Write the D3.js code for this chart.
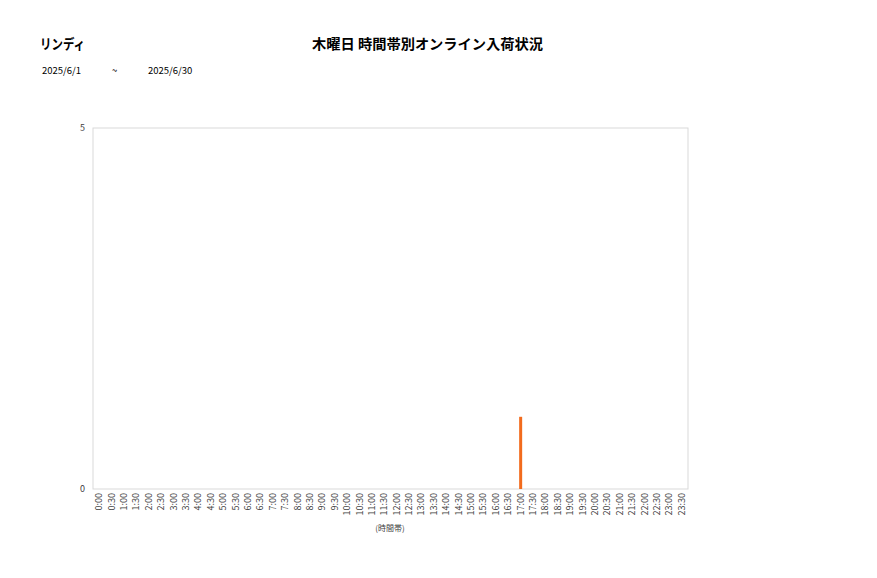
<!DOCTYPE html>
<html>
<head>
<meta charset="utf-8">
<script src="https://cdn.jsdelivr.net/npm/d3@7"></script>
<style>
  body { margin: 0; background: #fff; }
  text { font-family: "Noto Sans CJK JP", "Noto Sans", sans-serif; }
</style>
</head>
<body>
<div id="chart"></div>
<script>
// time slots, 30 minute steps
const slots = [
  "0:00","0:30","1:00","1:30","2:00","2:30","3:00","3:30","4:00","4:30",
  "5:00","5:30","6:00","6:30","7:00","7:30","8:00","8:30","9:00","9:30",
  "10:00","10:30","11:00","11:30","12:00","12:30","13:00","13:30","14:00","14:30",
  "15:00","15:30","16:00","16:30","17:00","17:30","18:00","18:30","19:00","19:30",
  "20:00","20:30","21:00","21:30","22:00","22:30","23:00","23:30"
];
const counts = [
  0,0,0,0,0,0,0,0,0,0,
  0,0,0,0,0,0,0,0,0,0,
  0,0,0,0,0,0,0,0,0,0,
  0,0,0,0,1,0,0,0,0,0,
  0,0,0,0,0,0,0,0
];
const yTicks = [0, 5];

const svg = d3.select("#chart").append("svg")
    .attr("width", 877)
    .attr("height", 578);

// header texts
svg.append("text").attr("x", 40).attr("y", 49)
    .attr("font-size", 14).attr("font-weight", "bold").attr("fill", "#000")
    .attr("textLength", 45).attr("lengthAdjust", "spacingAndGlyphs")
    .text("リンディ");
svg.append("text").attr("x", 312).attr("y", 49)
    .attr("font-size", 14).attr("font-weight", "bold").attr("fill", "#000")
    .attr("textLength", 231).attr("lengthAdjust", "spacingAndGlyphs")
    .text("木曜日 時間帯別オンライン入荷状況");
svg.append("text").attr("x", 42).attr("y", 74).attr("font-size", 9.5).text("2025/6/1");
svg.append("text").attr("x", 112).attr("y", 74).attr("font-size", 9.5).text("~");
svg.append("text").attr("x", 148).attr("y", 74).attr("font-size", 9.5).text("2025/6/30");

const margin = { top: 128, left: 93 };
const width = 595, height = 361;

const chart = svg.append("g")
    .attr("transform", `translate(${margin.left},${margin.top})`);

const x = d3.scaleBand().domain(slots).range([0, width]);
const y = d3.scaleLinear().domain([0, 5]).range([height, 0]);

// plot frame
chart.append("rect")
    .attr("width", width).attr("height", height)
    .attr("fill", "none").attr("stroke", "#d9d9d9");

// y labels
chart.selectAll(".ylab")
    .data(yTicks)
    .enter().append("text")
    .attr("class", "ylab")
    .attr("x", -8).attr("y", d => y(d) + 3)
    .attr("text-anchor", "end").attr("font-size", 9).attr("fill", "#404040")
    .text(d => d);

// x labels, rotated
chart.selectAll(".xlab")
    .data(slots)
    .enter().append("text")
    .attr("class", "xlab")
    .attr("transform", d => `translate(${x(d) + x.bandwidth() / 2 + 3},${height + 4}) rotate(-90)`)
    .attr("text-anchor", "end").attr("font-size", 9).attr("fill", "#404040")
    .text(d => d);

chart.append("text")
    .attr("x", 297).attr("y", height + 42)
    .attr("text-anchor", "middle").attr("font-size", 8).attr("fill", "#404040")
    .text("(時間帯)");

// bars
chart.selectAll(".bar")
    .data(slots.map((s, i) => ({ s, v: counts[i] })).filter(d => d.v > 0))
    .enter().append("rect")
    .attr("class", "bar")
    .attr("x", d => x(d.s) + x.bandwidth() / 2 - 1.5)
    .attr("y", d => y(d.v))
    .attr("width", 3)
    .attr("height", d => height - y(d.v))
    .attr("fill", "#f26b1d");
</script>
</body>
</html>
